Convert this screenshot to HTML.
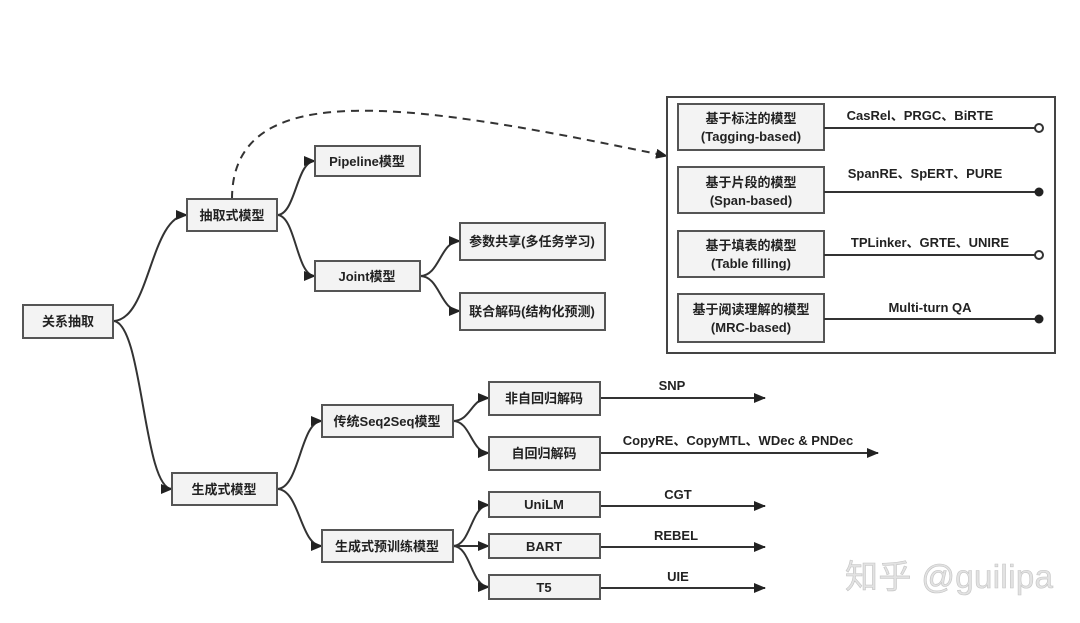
<!DOCTYPE html>
<html><head><meta charset="utf-8"><style>
html,body{margin:0;padding:0;background:#fff;}
svg{display:block;}
text{font-family:"Liberation Sans","Noto Sans CJK SC",sans-serif;font-weight:bold;fill:#222;}
</style></head><body>
<svg width="1080" height="623" viewBox="0 0 1080 623" xmlns="http://www.w3.org/2000/svg">
<defs>
<marker id="a" markerWidth="12" markerHeight="10" refX="11" refY="5" orient="auto" markerUnits="userSpaceOnUse">
<path d="M0,0 L12,5 L0,10 Z" fill="#222"/></marker>
</defs>
<rect width="1080" height="623" fill="#fff"/>
<g fill="none" stroke="#333" stroke-width="2" marker-end="url(#a)">
<path d="M113,321 C150,321 150,215 187,215"/>
<path d="M113,321 C143,321 143,489 172,489"/>
<path d="M277,215 C296,215 296,161 315,161"/>
<path d="M277,215 C296,215 296,276 315,276"/>
<path d="M420,276 C440,276 440,241 460,241"/>
<path d="M420,276 C440,276 440,311 460,311"/>
<path d="M277,489 C300,489 300,421 322,421"/>
<path d="M277,489 C300,489 300,546 322,546"/>
<path d="M453,421 C471,421 471,398 489,398"/>
<path d="M453,421 C471,421 471,453 489,453"/>
<path d="M453,546 C471,546 471,505 489,505"/>
<path d="M453,546 L489,546"/>
<path d="M453,546 C471,546 471,587 489,587"/>
<path d="M600,398 L765,398"/>
<path d="M600,453 L878,453"/>
<path d="M600,506 L765,506"/>
<path d="M600,547 L765,547"/>
<path d="M600,588 L765,588"/>
<path d="M232,199 C232,72 420,105 667,156" stroke-dasharray="8,6"/>
</g>
<g fill="#f3f3f3" stroke="#555" stroke-width="2">
<rect x="23" y="305" width="90" height="33"/>
<rect x="187" y="199" width="90" height="32"/>
<rect x="315" y="146" width="105" height="30"/>
<rect x="315" y="261" width="105" height="30"/>
<rect x="460" y="223" width="145" height="37"/>
<rect x="460" y="293" width="145" height="37"/>
<rect x="172" y="473" width="105" height="32"/>
<rect x="322" y="405" width="131" height="32"/>
<rect x="322" y="530" width="131" height="32"/>
<rect x="489" y="382" width="111" height="33"/>
<rect x="489" y="437" width="111" height="33"/>
<rect x="489" y="492" width="111" height="25"/>
<rect x="489" y="534" width="111" height="24"/>
<rect x="489" y="575" width="111" height="24"/>
</g>
<rect x="667" y="97" width="388" height="256" fill="none" stroke="#444" stroke-width="2"/>
<g fill="#f3f3f3" stroke="#555" stroke-width="2">
<rect x="678" y="104" width="146" height="46"/>
<rect x="678" y="167" width="146" height="46"/>
<rect x="678" y="231" width="146" height="46"/>
<rect x="678" y="294" width="146" height="48"/>
</g>
<g stroke="#333" stroke-width="2">
<line x1="824" y1="128" x2="1035" y2="128"/>
<line x1="824" y1="192" x2="1035" y2="192"/>
<line x1="824" y1="255" x2="1035" y2="255"/>
<line x1="824" y1="319" x2="1035" y2="319"/>
</g>
<circle cx="1039" cy="128" r="4" fill="#fff" stroke="#333" stroke-width="2"/>
<circle cx="1039" cy="192" r="4.5" fill="#222"/>
<circle cx="1039" cy="255" r="4" fill="#fff" stroke="#333" stroke-width="2"/>
<circle cx="1039" cy="319" r="4.5" fill="#222"/>
<g font-size="13" text-anchor="middle">
<text x="68" y="326">关系抽取</text>
<text x="232" y="220">抽取式模型</text>
<text x="367" y="166">Pipeline模型</text>
<text x="367" y="281">Joint模型</text>
<text x="532" y="246">参数共享(多任务学习)</text>
<text x="532" y="316">联合解码(结构化预测)</text>
<text x="224" y="494">生成式模型</text>
<text x="387" y="426">传统Seq2Seq模型</text>
<text x="387" y="551">生成式预训练模型</text>
<text x="544" y="403">非自回归解码</text>
<text x="544" y="458">自回归解码</text>
<text x="544" y="509">UniLM</text>
<text x="544" y="551">BART</text>
<text x="544" y="592">T5</text>
<text x="672" y="390">SNP</text>
<text x="738" y="445">CopyRE、CopyMTL、WDec &amp; PNDec</text>
<text x="678" y="499">CGT</text>
<text x="676" y="540">REBEL</text>
<text x="678" y="581">UIE</text>
<text x="751" y="123">基于标注的模型</text>
<text x="751" y="141">(Tagging-based)</text>
<text x="751" y="187">基于片段的模型</text>
<text x="751" y="205">(Span-based)</text>
<text x="751" y="250">基于填表的模型</text>
<text x="751" y="268">(Table filling)</text>
<text x="751" y="314">基于阅读理解的模型</text>
<text x="751" y="332">(MRC-based)</text>
<text x="920" y="120">CasRel、PRGC、BiRTE</text>
<text x="925" y="178">SpanRE、SpERT、PURE</text>
<text x="930" y="247">TPLinker、GRTE、UNIRE</text>
<text x="930" y="312">Multi-turn QA</text>
</g>
<text x="845" y="588" font-size="33" textLength="208" style="font-weight:normal;fill:#e2e2e2;stroke:#c4c4c4;stroke-width:0.6">知乎 @guilipa</text>
</svg>
</body></html>
